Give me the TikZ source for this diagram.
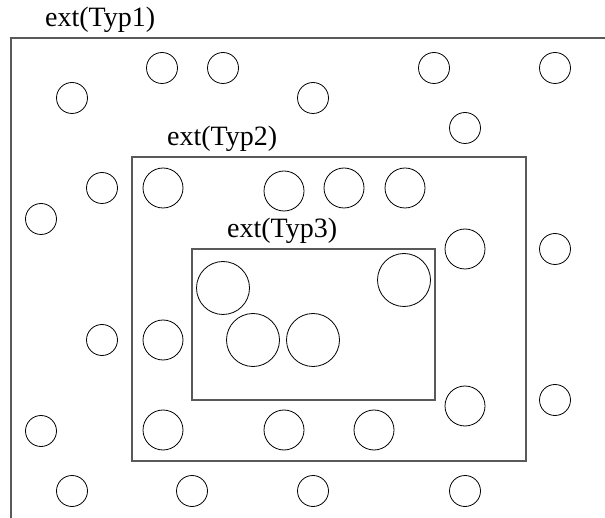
\documentclass[tikz,border=0pt]{standalone}
\usepackage{fontspec}
\setmainfont{Liberation Serif}

\begin{document}
\begin{tikzpicture}[x=1pt,y=-1pt,
    elem/.style={circle,draw,line width=0.8pt,inner sep=0pt,minimum size=31pt},
    elemm/.style={elem,minimum size=40pt},
    eleml/.style={elem,minimum size=53pt},
    typbox/.style={draw=black!65,line width=1.1pt},
    typlabel/.style={anchor=south west,inner sep=0pt,font=\fontsize{28}{30}\selectfont}]

\clip (0,0) rectangle (605,518);

% Cadres des types
\draw[typbox] (11,38) rectangle (640,560);
\draw[typbox] (132,157) rectangle (526,461);
\draw[typbox] (192,249) rectangle (435,400);

% Etiquettes
\node[typlabel] (lab1) at (45,32.5) {ext(Typ1)};
\node[typlabel] (lab2) at (167,151.5) {ext(Typ2)};
\node[typlabel] (lab3) at (227,243.5) {ext(Typ3)};

% Petits elements
\foreach \x/\y [count=\i] in {162/68, 223/68, 434/68, 555/68, 72/98, 313/98,
    465/128, 102/188, 41/219, 555/249, 102/340, 555/400, 41/431,
    72/491, 192/491, 313/491, 465/491} {
    \node[elem] (s\i) at (\x,\y) {};
}

% Elements moyens
\foreach \x/\y [count=\i] in {163/188, 284/191, 344/188, 405/188, 465/249,
    163/340, 465/406, 163/430, 284/430, 374/430} {
    \node[elemm] (m\i) at (\x,\y) {};
}

% Grands elements
\foreach \x/\y [count=\i] in {223/288, 404/280, 253/340, 313/340} {
    \node[eleml] (g\i) at (\x,\y) {};
}

\end{tikzpicture}
\end{document}
